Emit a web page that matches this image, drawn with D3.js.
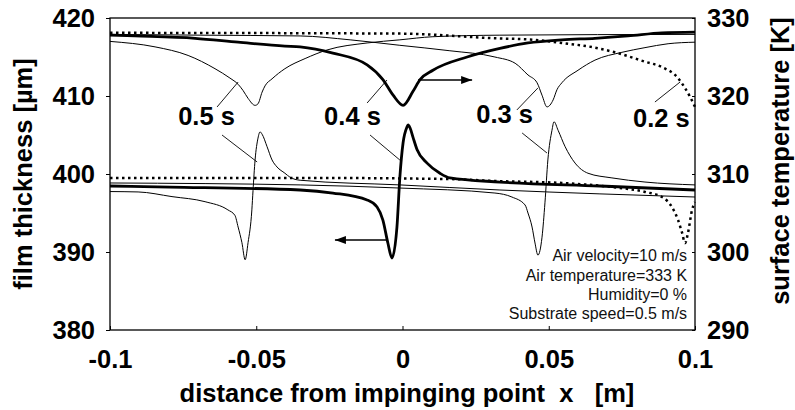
<!DOCTYPE html>
<html lang="en">
<head>
<meta charset="utf-8">
<title>Film thickness and surface temperature</title>
<script src="https://d3js.org/d3.v7.min.js"></script>
<style>
  body { margin: 0; background: #fff; }
  svg text { font-family: "Liberation Sans", Arial, sans-serif; fill: #000; }
  .big { font-size: 25.5px; font-weight: bold; }
  .note { font-size: 16px; fill: #111; }
  .thin { fill: none; stroke: #000; stroke-width: 1; }
  .thick { fill: none; stroke: #000; stroke-width: 2.8; }
  .dotted { fill: none; stroke: #000; stroke-width: 2.5; stroke-dasharray: 2.5,3.5; }
  .leader { stroke: #000; stroke-width: 0.9; }
</style>
</head>
<body>
<script>
// values: x in m, film in um, temperature in K
const xTicks = [-0.1, -0.05, 0, 0.05, 0.1];
const xTickLabels = ["-0.1", "-0.05", "0", "0.05", "0.1"];
const filmTicks = [380, 390, 400, 410, 420];
const tempTicks = [290, 300, 310, 320, 330];

const timeLabels = ["0.5 s", "0.4 s", "0.3 s", "0.2 s"];
const lineStyles = ["thin", "thick", "thin", "dotted"];

const temp05 = [[-0.1, 327.0], [-0.0846, 326.3], [-0.0733, 325.2], [-0.0641, 323.5], [-0.059, 322.3],
  [-0.0562, 321.5], [-0.0545, 320.7], [-0.0528, 319.7], [-0.0504, 318.8], [-0.0494, 319.0],
  [-0.048, 320.5], [-0.047, 321.3], [-0.0446, 322.2], [-0.0402, 323.5], [-0.0333, 324.8],
  [-0.0258, 325.9], [-0.0121, 326.8], [-0.0009, 327.2], [0.0104, 327.6], [0.0333, 327.8], [0.1, 327.9]];
const temp04 = [[-0.1, 327.8], [-0.0915, 327.7], [-0.0709, 327.4], [-0.0562, 326.9], [-0.0402, 326.4],
  [-0.035, 326.3], [-0.0238, 325.5], [-0.0121, 324.0], [-0.0067, 322.1], [-0.0032, 320.1],
  [0.0002, 318.8], [0.0036, 320.6], [0.006, 322.1], [0.0104, 323.3], [0.0221, 325.0],
  [0.0333, 326.1], [0.0429, 326.8], [0.0545, 327.2], [0.0658, 327.4], [0.0771, 327.7],
  [0.0887, 328.1], [0.1, 328.2]];
const temp03 = [[-0.1, 327.9], [-0.0692, 327.8], [-0.035, 327.7], [-0.0179, 327.2], [-0.0009, 326.5],
  [0.0162, 325.8], [0.0316, 325.0], [0.0385, 324.2], [0.0429, 322.7], [0.046, 321.7],
  [0.0477, 320.1], [0.0494, 318.6], [0.0515, 319.5], [0.0528, 320.8], [0.0545, 321.7],
  [0.06, 323.3], [0.0658, 324.6], [0.075, 325.6], [0.0829, 326.2], [0.0908, 326.7], [0.1, 326.9]];
const temp02 = [[-0.1, 328.1], [-0.0009, 328.0], [0.0316, 327.4], [0.0453, 327.2], [0.0545, 326.8],
  [0.0658, 326.2], [0.0726, 325.6], [0.0829, 324.4], [0.0887, 323.7], [0.0942, 322.3],
  [0.0966, 321.0], [0.0983, 319.9], [0.1, 318.6]];

const film05 = [[-0.1, 397.75], [-0.0904, 397.7], [-0.0788, 397.1], [-0.0675, 396.45], [-0.0597, 395.4],
  [-0.0573, 394.7], [-0.0562, 393.2], [-0.0549, 391.2], [-0.0538, 389.0], [-0.0528, 391.2],
  [-0.0515, 395.4], [-0.0511, 397.9], [-0.0504, 401.8], [-0.0494, 404.6], [-0.0487, 405.4],
  [-0.048, 405.1], [-0.0463, 403.5], [-0.0446, 401.8], [-0.0429, 400.9], [-0.0402, 400.1],
  [-0.0385, 399.6], [-0.035, 399.2], [-0.0009, 398.6], [0.0333, 397.95], [0.0675, 397.45], [0.1, 397.05]];
const film04 = [[-0.1, 398.46], [-0.0795, 398.33], [-0.035, 397.95], [-0.0238, 397.56], [-0.0121, 396.67],
  [-0.0087, 395.77], [-0.0067, 394.1], [-0.005, 391.15], [-0.0036, 389.23], [-0.0019, 393.2],
  [-0.0009, 399.6], [0.0002, 404.0], [0.0015, 406.0], [0.0019, 406.3], [0.0026, 405.9],
  [0.0036, 404.7], [0.005, 403.1], [0.0084, 401.4], [0.0128, 400.1], [0.0162, 399.5],
  [0.0333, 398.97], [0.0675, 398.46], [0.1, 397.95]];
const film03 = [[-0.1, 398.85], [-0.035, 398.6], [-0.0009, 398.2], [0.0316, 397.56], [0.0374, 397.05],
  [0.0419, 396.03], [0.0429, 395.0], [0.0443, 393.2], [0.0453, 391.15], [0.0463, 389.6],
  [0.0477, 391.9], [0.0487, 396.3], [0.0497, 401.8], [0.0511, 405.6], [0.0518, 406.7],
  [0.0532, 405.6], [0.0556, 403.5], [0.059, 401.4], [0.0634, 400.1], [0.0716, 399.5],
  [0.0829, 398.97], [0.1, 398.6]];
const film02 = [[-0.1, 399.5], [-0.035, 399.5], [0.0162, 399.35], [0.0316, 399.1], [0.0545, 398.85],
  [0.0716, 398.33], [0.0829, 397.7], [0.0887, 397.05], [0.0921, 395.77], [0.0942, 394.1],
  [0.0956, 392.44], [0.0966, 391.15], [0.0976, 392.44], [0.099, 395.4], [0.1, 396.4]];

const tempSeries = [temp05, temp04, temp03, temp02];
const filmSeries = [film05, film04, film03, film02];

// label anchors and leader lines, in (x, film thickness) units
const labelX = [-0.067, -0.0171, 0.0349, 0.0885];
const labelY = [406.28, 406.28, 406.54, 406.03];
const leaders = [
  [-0.0634, 408.59, -0.0562, 411.79], [-0.0617, 405.0, -0.0497, 401.54],
  [-0.0121, 409.10, -0.0053, 412.05], [-0.0111, 405.0, -0.0009, 401.79],
  [0.0391, 408.21, 0.0463, 411.03], [0.0409, 405.26, 0.0494, 402.69],
  [0.0863, 409.23, 0.0949, 411.79]
];
const arrows = [[0.0053, 0.0238, 412.05], [-0.0053, -0.0231, 391.54]];

const noteLines = ["Air velocity=10 m/s", "Air temperature=333 K", "Humidity=0 %", "Substrate speed=0.5 m/s"];
const noteX = 0.0973;
const noteY = [388.85, 386.28, 383.85, 381.41];

const W = 795, H = 410;
const margin = { left: 110, right: 100, top: 18, bottom: 80 };

const svg = d3.select("body").append("svg")
  .attr("width", W).attr("height", H);

const x = d3.scaleLinear().domain([-0.1, 0.1]).range([margin.left, W - margin.right]);
const yFilm = d3.scaleLinear().domain([380, 420]).range([H - margin.bottom, margin.top]);
const yTemp = d3.scaleLinear().domain([290, 330]).range([H - margin.bottom, margin.top]);

svg.append("defs").append("marker")
  .attr("id", "head")
  .attr("markerUnits", "userSpaceOnUse")
  .attr("markerWidth", 12).attr("markerHeight", 10)
  .attr("viewBox", "0 0 12 10")
  .attr("refX", 11).attr("refY", 5)
  .attr("orient", "auto")
  .append("path").attr("d", "M0,1 L11,5 L0,9 Z").attr("fill", "#000");

// axes
const xAxis = svg.append("g")
  .attr("transform", "translate(0," + yFilm(380) + ")")
  .call(d3.axisBottom(x).tickValues(xTicks).tickSize(-4).tickPadding(20)
    .tickFormat((d, i) => xTickLabels[i]));
const lAxis = svg.append("g")
  .attr("transform", "translate(" + x(-0.1) + ",0)")
  .call(d3.axisLeft(yFilm).tickValues(filmTicks).tickSize(4).tickPadding(11));
const rAxis = svg.append("g")
  .attr("transform", "translate(" + x(0.1) + ",0)")
  .call(d3.axisRight(yTemp).tickValues(tempTicks).tickSize(-3).tickPadding(12));

[xAxis, lAxis, rAxis].forEach(g => {
  g.select(".domain").remove();
  g.selectAll("text").attr("class", "big").attr("font-family", null).attr("font-size", null);
  g.selectAll("line").attr("stroke", "#000");
});

svg.append("rect")
  .attr("x", x(-0.1)).attr("y", yFilm(420))
  .attr("width", x(0.1) - x(-0.1)).attr("height", yFilm(380) - yFilm(420))
  .attr("fill", "none").attr("stroke", "#000").attr("stroke-width", 1.3);

// curves
const lineT = d3.line().x(d => x(d[0])).y(d => yTemp(d[1])).curve(d3.curveMonotoneX);
const lineF = d3.line().x(d => x(d[0])).y(d => yFilm(d[1])).curve(d3.curveMonotoneX);

tempSeries.forEach((s, i) => {
  svg.append("path").attr("class", lineStyles[i]).attr("d", lineT(s));
});
filmSeries.forEach((s, i) => {
  svg.append("path").attr("class", lineStyles[i]).attr("d", lineF(s));
});

// time labels and leaders
svg.selectAll(".leader").data(leaders).enter().append("line")
  .attr("class", "leader")
  .attr("x1", d => x(d[0])).attr("y1", d => yFilm(d[1]))
  .attr("x2", d => x(d[2])).attr("y2", d => yFilm(d[3]));

svg.selectAll(".tlabel").data(timeLabels).enter().append("text")
  .attr("class", "big")
  .attr("x", (d, i) => x(labelX[i])).attr("y", (d, i) => yFilm(labelY[i]))
  .attr("text-anchor", "middle")
  .text(d => d);

svg.selectAll(".arrow").data(arrows).enter().append("line")
  .attr("x1", d => x(d[0])).attr("x2", d => x(d[1]))
  .attr("y1", d => yFilm(d[2])).attr("y2", d => yFilm(d[2]))
  .attr("stroke", "#000").attr("stroke-width", 1.5)
  .attr("marker-end", "url(#head)");

// conditions note
svg.selectAll(".note").data(noteLines).enter().append("text")
  .attr("class", "note")
  .attr("x", x(noteX)).attr("y", (d, i) => yFilm(noteY[i]))
  .attr("text-anchor", "end")
  .text(d => d);

// axis titles
svg.append("text").attr("class", "big")
  .attr("transform", "translate(32,174) rotate(-90)")
  .attr("text-anchor", "middle")
  .text("film thickness [\u00b5m]");

svg.append("text").attr("class", "big")
  .attr("transform", "translate(789,161) rotate(-90)")
  .attr("text-anchor", "middle")
  .text("surface temperature [K]");

svg.append("text").attr("class", "big")
  .attr("x", 407).attr("y", 402)
  .attr("text-anchor", "middle")
  .attr("xml:space", "preserve")
  .style("white-space", "pre")
  .text("distance from impinging point  x   [m]");
</script>
</body>
</html>
